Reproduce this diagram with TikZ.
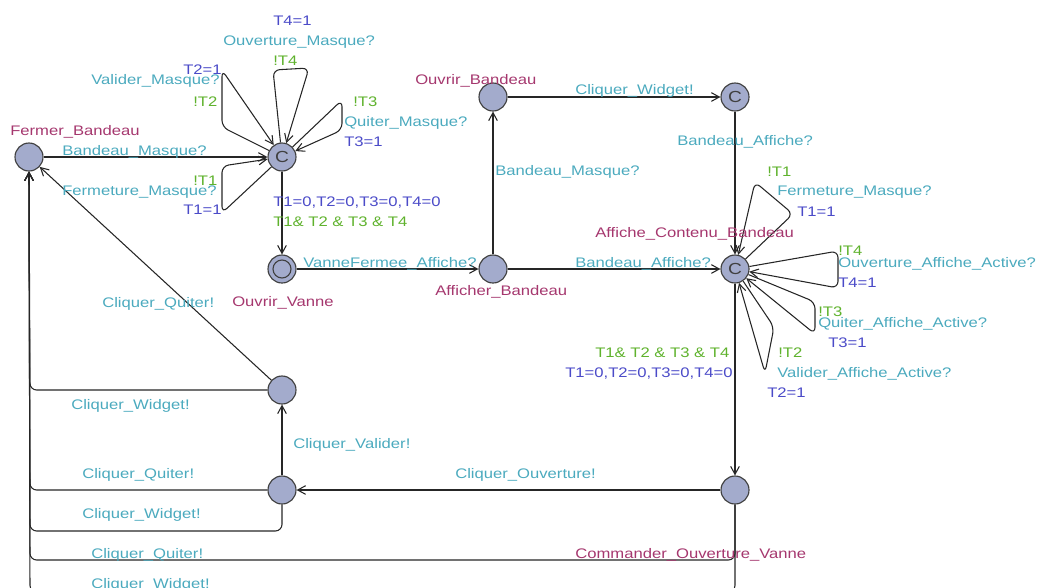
\documentclass[tikz,border=0pt]{standalone}
\usepackage{fontspec}
\setmainfont{Liberation Sans}[FakeStretch=1.2]
\usetikzlibrary{arrows.meta}
\definecolor{nodefill}{RGB}{163,171,204}
\definecolor{cName}{RGB}{165,55,110}
\definecolor{cSync}{RGB}{75,170,190}
\definecolor{cAssign}{RGB}{75,75,200}
\definecolor{cGuard}{RGB}{95,178,45}
\begin{document}
\begin{tikzpicture}[x=0.75pt,y=-0.75pt,
  font=\fontsize{10.4pt}{12pt}\selectfont,
  loc/.style={circle, draw=black!75, fill=nodefill, line width=0.85pt, minimum size=21pt, inner sep=0pt},
  comm/.style={loc, font=\fontsize{12pt}{12pt}\selectfont, text=black!75},
  edge/.style={draw=black!85, line width=0.8pt, -{Straight Barb[length=6pt,width=6.5pt]}},
  loop/.style={edge, rounded corners=5pt},
  lab/.style={inner sep=0pt, anchor=base west},
  nm/.style={lab, text=cName},
  sy/.style={lab, text=cSync},
  as/.style={lab, text=cAssign},
  gd/.style={lab, text=cGuard}]
\useasboundingbox (0,0) rectangle (1038,587);

% locations
\node[loc] (fb) at (29,157) {};
\node[comm] (c1) at (282,157) {C};
\node[loc] (ov) at (282,269) {};
\draw[black!75, line width=0.85pt] (ov.center) circle[radius=6.75pt];
\node[loc] (ab) at (493,269) {};
\node[loc] (ob) at (493,97) {};
\node[comm] (c2) at (735,97) {C};
\node[comm] (c3) at (735,269) {C};
\node[loc] (cov) at (735,490) {};
\node[loc] (nm) at (282,390) {};
\node[loc] (nl) at (282,490) {};

% main edges
\draw[edge] (fb) -- (c1);
\draw[edge] (c1) -- (ov);
\draw[edge] (ov) -- (ab);
\draw[edge] (ab) -- (ob);
\draw[edge] (ob) -- (c2);
\draw[edge] (c2) -- (c3);
\draw[edge] (ab) -- (c3);
\draw[edge] (c3) -- (cov);
\draw[edge] (cov) -- (nl);
\draw[edge] (nl) -- (nm);
\draw[edge] (nm) -- (fb);
\draw[loop] (nm.west) -- (30,390) -- (fb.south);
\draw[loop] (nl.west) -- (30,490) -- (fb.south);
\draw[loop] (nl.south) -- (282,531) -- (30,531) -- (fb.south);
\draw[loop] (cov.south) -- (735,560) -- (30,560) -- (fb.south);
\draw[loop] (cov.south) -- (735,592) -- (30,592) -- (fb.south);

% self loops at c1
\draw[loop] (c1) -- (273,70) -- (309,68) -- (c1);
\draw[loop] (c1) -- (222,127) -- (222,70) -- (c1);
\draw[loop] (c1) -- (342,100) -- (342,130) -- (c1);
\draw[loop] (c1) -- (222,213) -- (222,166) -- (c1);

% self loops at c3
\draw[loop] (c3) -- (793,214) -- (755,182) -- (c3);
\draw[loop] (c3) -- (838,251) -- (838,288) -- (c3);
\draw[loop] (c3) -- (815,302) -- (815,334) -- (c3);
\draw[loop] (c3) -- (774,327) -- (765,373) -- (c3);

% labels around c1
\node[as] (t1) at (273,25) {T4=1};
\node[sy] (t2) at (223,45) {Ouverture\_Masque?};
\node[gd] (t3) at (273,65) {!T4};
\node[as] (t4) at (183,74) {T2=1};
\node[sy] (t5) at (91,84) {Valider\_Masque?};
\node[gd] (t6) at (193,106) {!T2};
\node[gd] (t7) at (353,106) {!T3};
\node[sy] (t8) at (344,126) {Quiter\_Masque?};
\node[as] (t9) at (344,146) {T3=1};
\node[nm] (t10) at (10,135) {Fermer\_Bandeau};
\node[sy] (t11) at (62,155) {Bandeau\_Masque?};
\node[gd] (t12) at (193,185) {!T1};
\node[sy] (t13) at (62,195) {Fermeture\_Masque?};
\node[as] (t14) at (183,214) {T1=1};
\node[as] (t15) at (273,206) {T1=0,T2=0,T3=0,T4=0};
\node[gd] (t16) at (273,226) {T1\& T2 \& T3 \& T4};

% middle labels
\node[nm] (m1) at (415,84) {Ouvrir\_Bandeau};
\node[sy] (m2) at (575,94) {Cliquer\_Widget!};
\node[sy] (m3) at (495,175) {Bandeau\_Masque?};
\node[sy] (m4) at (677,145) {Bandeau\_Affiche?};
\node[nm] (m5) at (595,237) {Affiche\_Contenu\_Bandeau};
\node[sy] (m6) at (575,267) {Bandeau\_Affiche?};
\node[nm] (m7) at (435,295) {Afficher\_Bandeau};
\node[sy] (m8) at (303,267) {VanneFermee\_Affiche?};
\node[nm] (m9) at (232,306) {Ouvrir\_Vanne};

% lower labels
\node[sy] (b1) at (102,307) {Cliquer\_Quiter!};
\node[sy] (b2) at (71,409) {Cliquer\_Widget!};
\node[sy] (b3) at (293,448) {Cliquer\_Valider!};
\node[sy] (b4) at (82,478) {Cliquer\_Quiter!};
\node[sy] (b5) at (82,518) {Cliquer\_Widget!};
\node[sy] (b6) at (91,558) {Cliquer\_Quiter!};
\node[sy] (b7) at (91,588) {Cliquer\_Widget!};
\node[sy] (b8) at (455,478) {Cliquer\_Ouverture!};
\node[nm] (b9) at (575,558) {Commander\_Ouverture\_Vanne};

% labels around c3
\node[gd] (r1) at (767,176) {!T1};
\node[sy] (r2) at (777,195) {Fermeture\_Masque?};
\node[as] (r3) at (797,216) {T1=1};
\node[gd] (r4) at (838,255) {!T4};
\node[sy] (r5) at (838,267) {Ouverture\_Affiche\_Active?};
\node[as] (r6) at (838,287) {T4=1};
\node[gd] (r7) at (818,316) {!T3};
\node[sy] (r8) at (818,327) {Quiter\_Affiche\_Active?};
\node[as] (r9) at (828,347) {T3=1};
\node[gd] (r10) at (595,357) {T1\& T2 \& T3 \& T4};
\node[as] (r11) at (565,377) {T1=0,T2=0,T3=0,T4=0};
\node[gd] (r12) at (778,357) {!T2};
\node[sy] (r13) at (777,377) {Valider\_Affiche\_Active?};
\node[as] (r14) at (767,397) {T2=1};
\end{tikzpicture}
\end{document}
